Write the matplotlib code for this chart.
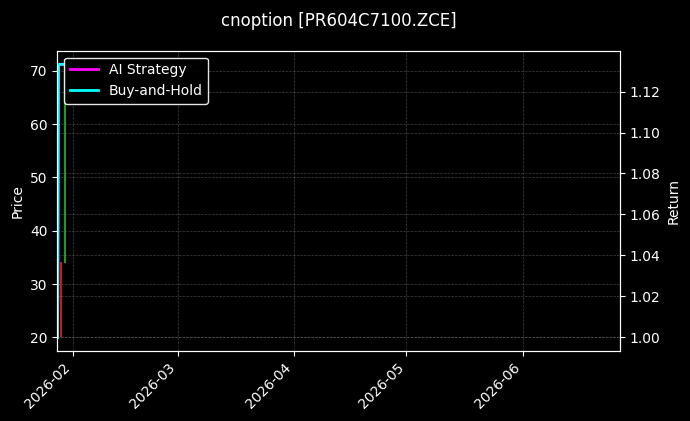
import matplotlib
matplotlib.use("Agg")
import matplotlib.pyplot as plt
import matplotlib.dates as mdates
import pandas as pd

# ---- data ----
candle_dates = ["2026-01-29", "2026-01-30"]
opens = [34.2, 34.0]
highs = [34.2, 71.2]
lows = [20.0, 34.0]
closes = [31.4, 37.8]

ret_dates = ["2026-01-28 00:00", "2026-01-28 06:00", "2026-01-30 00:00"]
ai_return = [1.0, 1.1333, 1.1333]
bh_return = [1.0, 1.1333, 1.1333]

x_start = "2026-01-27 22:00"
x_end = "2026-06-27 00:00"

title = "cnoption [PR604C7100.ZCE]"

plt.style.use("dark_background")
fig = plt.figure(figsize=(6.9, 4.21), dpi=100)
ax = fig.add_axes([0.083, 0.1663, 0.8156, 0.7133])
ax2 = ax.twinx()

cd = pd.to_datetime(candle_dates)
for d, o, h, l, c in zip(cd, opens, highs, lows, closes):
    col = "#1f9a1f" if c >= o else "#e01010"
    ax.vlines(d, l, h, color=col, linewidth=1.5)
    ax.bar(d, abs(c - o), bottom=min(o, c), width=0.6, color=col)

rd = pd.to_datetime(ret_dates)
ax2.plot(rd, ai_return, color="#ff00ff", linewidth=2, label="AI Strategy")
ax2.plot(rd, bh_return, color="#00ffff", linewidth=2, label="Buy-and-Hold")

ax.set_xlim(pd.Timestamp(x_start), pd.Timestamp(x_end))
ax.xaxis.set_major_locator(mdates.MonthLocator())
ax.xaxis.set_major_formatter(mdates.DateFormatter("%Y-%m"))
for lbl in ax.get_xticklabels():
    lbl.set_rotation(45)
    lbl.set_ha("right")

ax.set_ylabel("Price")
ax2.set_ylabel("Return")
ax2.yaxis.set_major_formatter(matplotlib.ticker.FormatStrFormatter("%.2f"))

ax.grid(True, linestyle="--", linewidth=0.5, color="gray", alpha=0.5)
ax2.grid(True, linestyle="--", linewidth=0.5, color="gray", alpha=0.5)

ax2.legend(loc="upper left", facecolor="black", edgecolor="white", framealpha=0.9)
ax.set_title(title, fontsize=12, pad=18)

fig.savefig("out.png", dpi=100, facecolor="black")
